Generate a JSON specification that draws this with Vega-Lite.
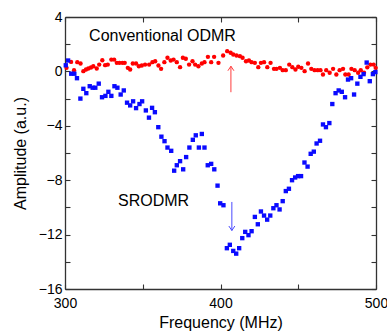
{
  "$schema": "https://vega.github.io/schema/vega-lite/v6.json",
  "width": 311,
  "height": 272,
  "autosize": "none",
  "padding": {"left": 65, "top": 17, "right": 11, "bottom": 42},
  "background": "white",
  "config": {
    "view": {"stroke": null},
    "font": "Liberation Sans",
    "axis": {
      "grid": false,
      "domainColor": "#333333",
      "domainWidth": 1.3,
      "tickColor": "#333333",
      "tickWidth": 1.1,
      "tickSize": -5,
      "labelFont": "Liberation Sans",
      "labelFontSize": 14,
      "labelColor": "black",
      "titleFont": "Liberation Sans",
      "titleFontSize": 16,
      "titleFontWeight": "normal",
      "titleColor": "black"
    }
  },
  "datasets": {
    "pts": [
      {"f": 301, "a": 0.26, "s": "Conventional ODMR"},
      {"f": 303.9, "a": 0.7, "s": "Conventional ODMR"},
      {"f": 305.8, "a": 0.09, "s": "Conventional ODMR"},
      {"f": 307.9, "a": 0.68, "s": "Conventional ODMR"},
      {"f": 310, "a": 0.58, "s": "Conventional ODMR"},
      {"f": 311.8, "a": 0.02, "s": "Conventional ODMR"},
      {"f": 313.5, "a": 0.14, "s": "Conventional ODMR"},
      {"f": 315, "a": 0.21, "s": "Conventional ODMR"},
      {"f": 316.7, "a": 0.29, "s": "Conventional ODMR"},
      {"f": 318.2, "a": 0.38, "s": "Conventional ODMR"},
      {"f": 320.4, "a": 0.21, "s": "Conventional ODMR"},
      {"f": 322, "a": 0.5, "s": "Conventional ODMR"},
      {"f": 324, "a": 0.82, "s": "Conventional ODMR"},
      {"f": 325.8, "a": 0.46, "s": "Conventional ODMR"},
      {"f": 327.5, "a": 0.5, "s": "Conventional ODMR"},
      {"f": 329.8, "a": 0.87, "s": "Conventional ODMR"},
      {"f": 331.6, "a": 0.87, "s": "Conventional ODMR"},
      {"f": 333.3, "a": 0.63, "s": "Conventional ODMR"},
      {"f": 335, "a": 0.63, "s": "Conventional ODMR"},
      {"f": 336.9, "a": 0.63, "s": "Conventional ODMR"},
      {"f": 338.4, "a": 0.63, "s": "Conventional ODMR"},
      {"f": 340.4, "a": 0.26, "s": "Conventional ODMR"},
      {"f": 341.9, "a": 0.14, "s": "Conventional ODMR"},
      {"f": 343.6, "a": 0.58, "s": "Conventional ODMR"},
      {"f": 345.7, "a": 0.58, "s": "Conventional ODMR"},
      {"f": 347.5, "a": 0.38, "s": "Conventional ODMR"},
      {"f": 349.4, "a": 0.43, "s": "Conventional ODMR"},
      {"f": 351.5, "a": 0.5, "s": "Conventional ODMR"},
      {"f": 354.1, "a": 0.5, "s": "Conventional ODMR"},
      {"f": 356.2, "a": 0.68, "s": "Conventional ODMR"},
      {"f": 358, "a": 0.75, "s": "Conventional ODMR"},
      {"f": 360.1, "a": 0.43, "s": "Conventional ODMR"},
      {"f": 361.8, "a": 0.19, "s": "Conventional ODMR"},
      {"f": 363.9, "a": 0.68, "s": "Conventional ODMR"},
      {"f": 365.9, "a": 1.0, "s": "Conventional ODMR"},
      {"f": 368, "a": 0.8, "s": "Conventional ODMR"},
      {"f": 369.8, "a": 0.87, "s": "Conventional ODMR"},
      {"f": 371.9, "a": 0.68, "s": "Conventional ODMR"},
      {"f": 374, "a": 0.31, "s": "Conventional ODMR"},
      {"f": 375.8, "a": 1.0, "s": "Conventional ODMR"},
      {"f": 377.7, "a": 0.93, "s": "Conventional ODMR"},
      {"f": 379.8, "a": 0.5, "s": "Conventional ODMR"},
      {"f": 382, "a": 0.75, "s": "Conventional ODMR"},
      {"f": 383.7, "a": 0.5, "s": "Conventional ODMR"},
      {"f": 385.8, "a": 0.38, "s": "Conventional ODMR"},
      {"f": 388, "a": 0.58, "s": "Conventional ODMR"},
      {"f": 389.7, "a": 0.68, "s": "Conventional ODMR"},
      {"f": 391.9, "a": 1.07, "s": "Conventional ODMR"},
      {"f": 394, "a": 0.68, "s": "Conventional ODMR"},
      {"f": 395.9, "a": 1.07, "s": "Conventional ODMR"},
      {"f": 398.7, "a": 0.63, "s": "Conventional ODMR"},
      {"f": 401.7, "a": 1.17, "s": "Conventional ODMR"},
      {"f": 404.3, "a": 1.49, "s": "Conventional ODMR"},
      {"f": 406.5, "a": 1.37, "s": "Conventional ODMR"},
      {"f": 408.2, "a": 1.24, "s": "Conventional ODMR"},
      {"f": 410.3, "a": 1.17, "s": "Conventional ODMR"},
      {"f": 412.5, "a": 1.12, "s": "Conventional ODMR"},
      {"f": 414.2, "a": 1.0, "s": "Conventional ODMR"},
      {"f": 416.4, "a": 0.75, "s": "Conventional ODMR"},
      {"f": 418.3, "a": 0.8, "s": "Conventional ODMR"},
      {"f": 420, "a": 0.68, "s": "Conventional ODMR"},
      {"f": 422.1, "a": 0.63, "s": "Conventional ODMR"},
      {"f": 424.3, "a": 0.31, "s": "Conventional ODMR"},
      {"f": 426, "a": 0.63, "s": "Conventional ODMR"},
      {"f": 428, "a": 0.68, "s": "Conventional ODMR"},
      {"f": 430.1, "a": 0.31, "s": "Conventional ODMR"},
      {"f": 432.2, "a": 0.63, "s": "Conventional ODMR"},
      {"f": 434.4, "a": 0.19, "s": "Conventional ODMR"},
      {"f": 436, "a": 0.19, "s": "Conventional ODMR"},
      {"f": 438.2, "a": 0.26, "s": "Conventional ODMR"},
      {"f": 440, "a": 0.09, "s": "Conventional ODMR"},
      {"f": 442, "a": 0.09, "s": "Conventional ODMR"},
      {"f": 444.2, "a": 0.5, "s": "Conventional ODMR"},
      {"f": 446.2, "a": 0.31, "s": "Conventional ODMR"},
      {"f": 448.2, "a": 0.14, "s": "Conventional ODMR"},
      {"f": 450, "a": 0.34, "s": "Conventional ODMR"},
      {"f": 452, "a": 0.26, "s": "Conventional ODMR"},
      {"f": 454.1, "a": 0.02, "s": "Conventional ODMR"},
      {"f": 456.3, "a": 0.58, "s": "Conventional ODMR"},
      {"f": 458.4, "a": 0.19, "s": "Conventional ODMR"},
      {"f": 460.5, "a": 0.09, "s": "Conventional ODMR"},
      {"f": 462.5, "a": 0.09, "s": "Conventional ODMR"},
      {"f": 464.3, "a": 0.09, "s": "Conventional ODMR"},
      {"f": 465.9, "a": -0.23, "s": "Conventional ODMR"},
      {"f": 468, "a": 0.09, "s": "Conventional ODMR"},
      {"f": 470.2, "a": -0.1, "s": "Conventional ODMR"},
      {"f": 472.4, "a": 0.19, "s": "Conventional ODMR"},
      {"f": 474.5, "a": -0.23, "s": "Conventional ODMR"},
      {"f": 476.6, "a": 0.09, "s": "Conventional ODMR"},
      {"f": 478.8, "a": 0.19, "s": "Conventional ODMR"},
      {"f": 480.3, "a": -0.23, "s": "Conventional ODMR"},
      {"f": 482.4, "a": -0.23, "s": "Conventional ODMR"},
      {"f": 484.2, "a": 0.19, "s": "Conventional ODMR"},
      {"f": 486.3, "a": 0.09, "s": "Conventional ODMR"},
      {"f": 488.5, "a": -0.1, "s": "Conventional ODMR"},
      {"f": 490.2, "a": 0.09, "s": "Conventional ODMR"},
      {"f": 492.3, "a": -0.1, "s": "Conventional ODMR"},
      {"f": 494.4, "a": 0.3, "s": "Conventional ODMR"},
      {"f": 496.4, "a": 0.5, "s": "Conventional ODMR"},
      {"f": 498.5, "a": 0.5, "s": "Conventional ODMR"},
      {"f": 499.8, "a": 0.26, "s": "Conventional ODMR"},
      {"f": 300.5, "a": 0.45, "s": "SRODMR"},
      {"f": 302, "a": 0.8, "s": "SRODMR"},
      {"f": 304, "a": -0.17, "s": "SRODMR"},
      {"f": 306, "a": -0.17, "s": "SRODMR"},
      {"f": 307.7, "a": -0.5, "s": "SRODMR"},
      {"f": 309.9, "a": -2.0, "s": "SRODMR"},
      {"f": 311.8, "a": -1.28, "s": "SRODMR"},
      {"f": 313.7, "a": -1.6, "s": "SRODMR"},
      {"f": 315.9, "a": -1.09, "s": "SRODMR"},
      {"f": 317.8, "a": -1.2, "s": "SRODMR"},
      {"f": 319.5, "a": -1.2, "s": "SRODMR"},
      {"f": 321.7, "a": -0.9, "s": "SRODMR"},
      {"f": 323.8, "a": -1.9, "s": "SRODMR"},
      {"f": 326, "a": -1.8, "s": "SRODMR"},
      {"f": 327.9, "a": -1.5, "s": "SRODMR"},
      {"f": 329.8, "a": -1.8, "s": "SRODMR"},
      {"f": 331.8, "a": -1.09, "s": "SRODMR"},
      {"f": 333.7, "a": -1.2, "s": "SRODMR"},
      {"f": 335.8, "a": -1.7, "s": "SRODMR"},
      {"f": 337.8, "a": -1.4, "s": "SRODMR"},
      {"f": 339.9, "a": -2.3, "s": "SRODMR"},
      {"f": 341.9, "a": -2.5, "s": "SRODMR"},
      {"f": 343.8, "a": -2.2, "s": "SRODMR"},
      {"f": 345.7, "a": -2.7, "s": "SRODMR"},
      {"f": 347.9, "a": -2.4, "s": "SRODMR"},
      {"f": 349.6, "a": -2.2, "s": "SRODMR"},
      {"f": 352, "a": -2.87, "s": "SRODMR"},
      {"f": 354, "a": -3.4, "s": "SRODMR"},
      {"f": 356, "a": -2.68, "s": "SRODMR"},
      {"f": 357.8, "a": -3.0, "s": "SRODMR"},
      {"f": 360, "a": -4.1, "s": "SRODMR"},
      {"f": 362, "a": -4.8, "s": "SRODMR"},
      {"f": 364, "a": -5.13, "s": "SRODMR"},
      {"f": 365.9, "a": -5.6, "s": "SRODMR"},
      {"f": 368.3, "a": -5.84, "s": "SRODMR"},
      {"f": 370.2, "a": -7.3, "s": "SRODMR"},
      {"f": 371.9, "a": -6.9, "s": "SRODMR"},
      {"f": 374, "a": -6.6, "s": "SRODMR"},
      {"f": 376, "a": -7.2, "s": "SRODMR"},
      {"f": 377.9, "a": -6.3, "s": "SRODMR"},
      {"f": 380, "a": -5.6, "s": "SRODMR"},
      {"f": 382.2, "a": -5.03, "s": "SRODMR"},
      {"f": 384.1, "a": -4.7, "s": "SRODMR"},
      {"f": 386.1, "a": -5.6, "s": "SRODMR"},
      {"f": 388, "a": -4.6, "s": "SRODMR"},
      {"f": 389.7, "a": -5.6, "s": "SRODMR"},
      {"f": 391.8, "a": -6.9, "s": "SRODMR"},
      {"f": 394, "a": -6.8, "s": "SRODMR"},
      {"f": 396, "a": -7.2, "s": "SRODMR"},
      {"f": 398.1, "a": -8.4, "s": "SRODMR"},
      {"f": 399.8, "a": -9.7, "s": "SRODMR"},
      {"f": 401.9, "a": -9.84, "s": "SRODMR"},
      {"f": 404.1, "a": -13.0, "s": "SRODMR"},
      {"f": 406, "a": -12.75, "s": "SRODMR"},
      {"f": 408.2, "a": -13.2, "s": "SRODMR"},
      {"f": 410.1, "a": -13.4, "s": "SRODMR"},
      {"f": 412, "a": -13.0, "s": "SRODMR"},
      {"f": 414, "a": -12.26, "s": "SRODMR"},
      {"f": 415.9, "a": -11.8, "s": "SRODMR"},
      {"f": 418, "a": -12.04, "s": "SRODMR"},
      {"f": 420, "a": -11.75, "s": "SRODMR"},
      {"f": 422.1, "a": -10.7, "s": "SRODMR"},
      {"f": 424, "a": -11.24, "s": "SRODMR"},
      {"f": 426, "a": -10.3, "s": "SRODMR"},
      {"f": 428, "a": -10.6, "s": "SRODMR"},
      {"f": 430, "a": -10.9, "s": "SRODMR"},
      {"f": 432, "a": -10.6, "s": "SRODMR"},
      {"f": 434, "a": -10.06, "s": "SRODMR"},
      {"f": 436, "a": -9.84, "s": "SRODMR"},
      {"f": 438, "a": -10.15, "s": "SRODMR"},
      {"f": 440, "a": -9.54, "s": "SRODMR"},
      {"f": 442, "a": -8.8, "s": "SRODMR"},
      {"f": 444, "a": -8.63, "s": "SRODMR"},
      {"f": 446, "a": -8.0, "s": "SRODMR"},
      {"f": 448, "a": -7.8, "s": "SRODMR"},
      {"f": 449.9, "a": -7.7, "s": "SRODMR"},
      {"f": 451.8, "a": -7.7, "s": "SRODMR"},
      {"f": 454, "a": -6.7, "s": "SRODMR"},
      {"f": 456, "a": -7.0, "s": "SRODMR"},
      {"f": 458, "a": -6.06, "s": "SRODMR"},
      {"f": 460, "a": -5.9, "s": "SRODMR"},
      {"f": 461.8, "a": -5.3, "s": "SRODMR"},
      {"f": 464, "a": -5.1, "s": "SRODMR"},
      {"f": 465.9, "a": -3.9, "s": "SRODMR"},
      {"f": 467.8, "a": -4.1, "s": "SRODMR"},
      {"f": 470, "a": -3.8, "s": "SRODMR"},
      {"f": 471.9, "a": -2.4, "s": "SRODMR"},
      {"f": 474, "a": -1.6, "s": "SRODMR"},
      {"f": 476, "a": -1.4, "s": "SRODMR"},
      {"f": 478, "a": -1.5, "s": "SRODMR"},
      {"f": 480.1, "a": -1.9, "s": "SRODMR"},
      {"f": 482, "a": -0.6, "s": "SRODMR"},
      {"f": 484, "a": -0.5, "s": "SRODMR"},
      {"f": 485.9, "a": -1.7, "s": "SRODMR"},
      {"f": 488, "a": -0.9, "s": "SRODMR"},
      {"f": 490, "a": -0.4, "s": "SRODMR"},
      {"f": 492, "a": -0.2, "s": "SRODMR"},
      {"f": 494, "a": 0.65, "s": "SRODMR"},
      {"f": 496, "a": -0.72, "s": "SRODMR"},
      {"f": 498, "a": -0.2, "s": "SRODMR"},
      {"f": 499.6, "a": -0.05, "s": "SRODMR"}
    ],
    "labels": [
      {"f": 315.5, "a": 2.57, "t": "Conventional ODMR"},
      {"f": 334.1, "a": -9.54, "t": "SRODMR"}
    ],
    "arrows": [
      {"f": 406.7, "tip": 0.38, "tail": -1.53, "c": "#ff3b3b", "dir": "up"},
      {"f": 407.3, "tip": -11.7, "tail": -9.6, "c": "#4a4aff", "dir": "down"}
    ]
  },
  "resolve": {"axis": {"x": "independent", "y": "independent"}},
  "layer": [
    {
      "data": {"name": "pts"},
      "mark": {"type": "point", "filled": true, "opacity": 1, "size": 19},
      "encoding": {
        "x": {"field": "f", "type": "quantitative",
              "scale": {"domain": [300, 500], "nice": false, "zero": false},
              "axis": {"orient": "bottom", "title": "Frequency (MHz)",
                       "values": [300, 350, 400, 450, 500],
                       "labelExpr": "datum.value % 100 == 0 ? datum.label : ''",
                       "labelPadding": 12, "titlePadding": 4, "labelFlush": false}},
        "y": {"field": "a", "type": "quantitative",
              "scale": {"domain": [-16, 4], "nice": false, "zero": false},
              "axis": {"orient": "left", "title": "Amplitude (a.u.)",
                       "values": [-16, -14, -12, -10, -8, -6, -4, -2, 0, 2, 4],
                       "labelExpr": "datum.value % 4 == 0 ? (datum.value >= 0 ? datum.label + '\u00a0' : datum.label) : ''",
                       "labelPadding": 8, "titlePadding": 10}},
        "color": {"field": "s", "type": "nominal",
                  "scale": {"domain": ["Conventional ODMR", "SRODMR"], "range": ["#ff0000", "#0a0aff"]},
                  "legend": null},
        "shape": {"field": "s", "type": "nominal",
                  "scale": {"domain": ["Conventional ODMR", "SRODMR"], "range": ["circle", "square"]},
                  "legend": null}
      }
    },
    {
      "data": {"name": "labels"},
      "mark": {"type": "text", "align": "left", "baseline": "middle", "fontSize": 16, "font": "Liberation Sans", "color": "black"},
      "encoding": {
        "x": {"field": "f", "type": "quantitative",
              "scale": {"domain": [300, 500], "nice": false, "zero": false},
              "axis": {"orient": "top", "title": null, "labels": false,
                       "values": [300, 350, 400, 450, 500]}},
        "y": {"field": "a", "type": "quantitative",
              "scale": {"domain": [-16, 4], "nice": false, "zero": false},
              "axis": {"orient": "right", "title": null, "labels": false,
                       "values": [-16, -14, -12, -10, -8, -6, -4, -2, 0, 2, 4]}},
        "text": {"field": "t"}
      }
    },
    {
      "data": {"name": "arrows"},
      "mark": {"type": "rule", "strokeWidth": 1},
      "encoding": {
        "x": {"field": "f", "type": "quantitative", "axis": null},
        "y": {"field": "tip", "type": "quantitative", "axis": null},
        "y2": {"field": "tail"},
        "color": {"field": "c", "type": "nominal", "scale": null}
      }
    },
    {
      "data": {"name": "arrows"},
      "transform": [{"filter": "datum.dir == 'up'"}],
      "mark": {"type": "point", "shape": "M-1,1.5L0,0L1,1.5", "filled": false, "size": 36, "strokeWidth": 1, "opacity": 1},
      "encoding": {
        "x": {"field": "f", "type": "quantitative", "axis": null},
        "y": {"field": "tip", "type": "quantitative", "axis": null},
        "stroke": {"field": "c", "type": "nominal", "scale": null}
      }
    },
    {
      "data": {"name": "arrows"},
      "transform": [{"filter": "datum.dir == 'down'"}],
      "mark": {"type": "point", "shape": "M-1,-1.5L0,0L1,-1.5", "filled": false, "size": 36, "strokeWidth": 1, "opacity": 1},
      "encoding": {
        "x": {"field": "f", "type": "quantitative", "axis": null},
        "y": {"field": "tip", "type": "quantitative", "axis": null},
        "stroke": {"field": "c", "type": "nominal", "scale": null}
      }
    }
  ]
}
